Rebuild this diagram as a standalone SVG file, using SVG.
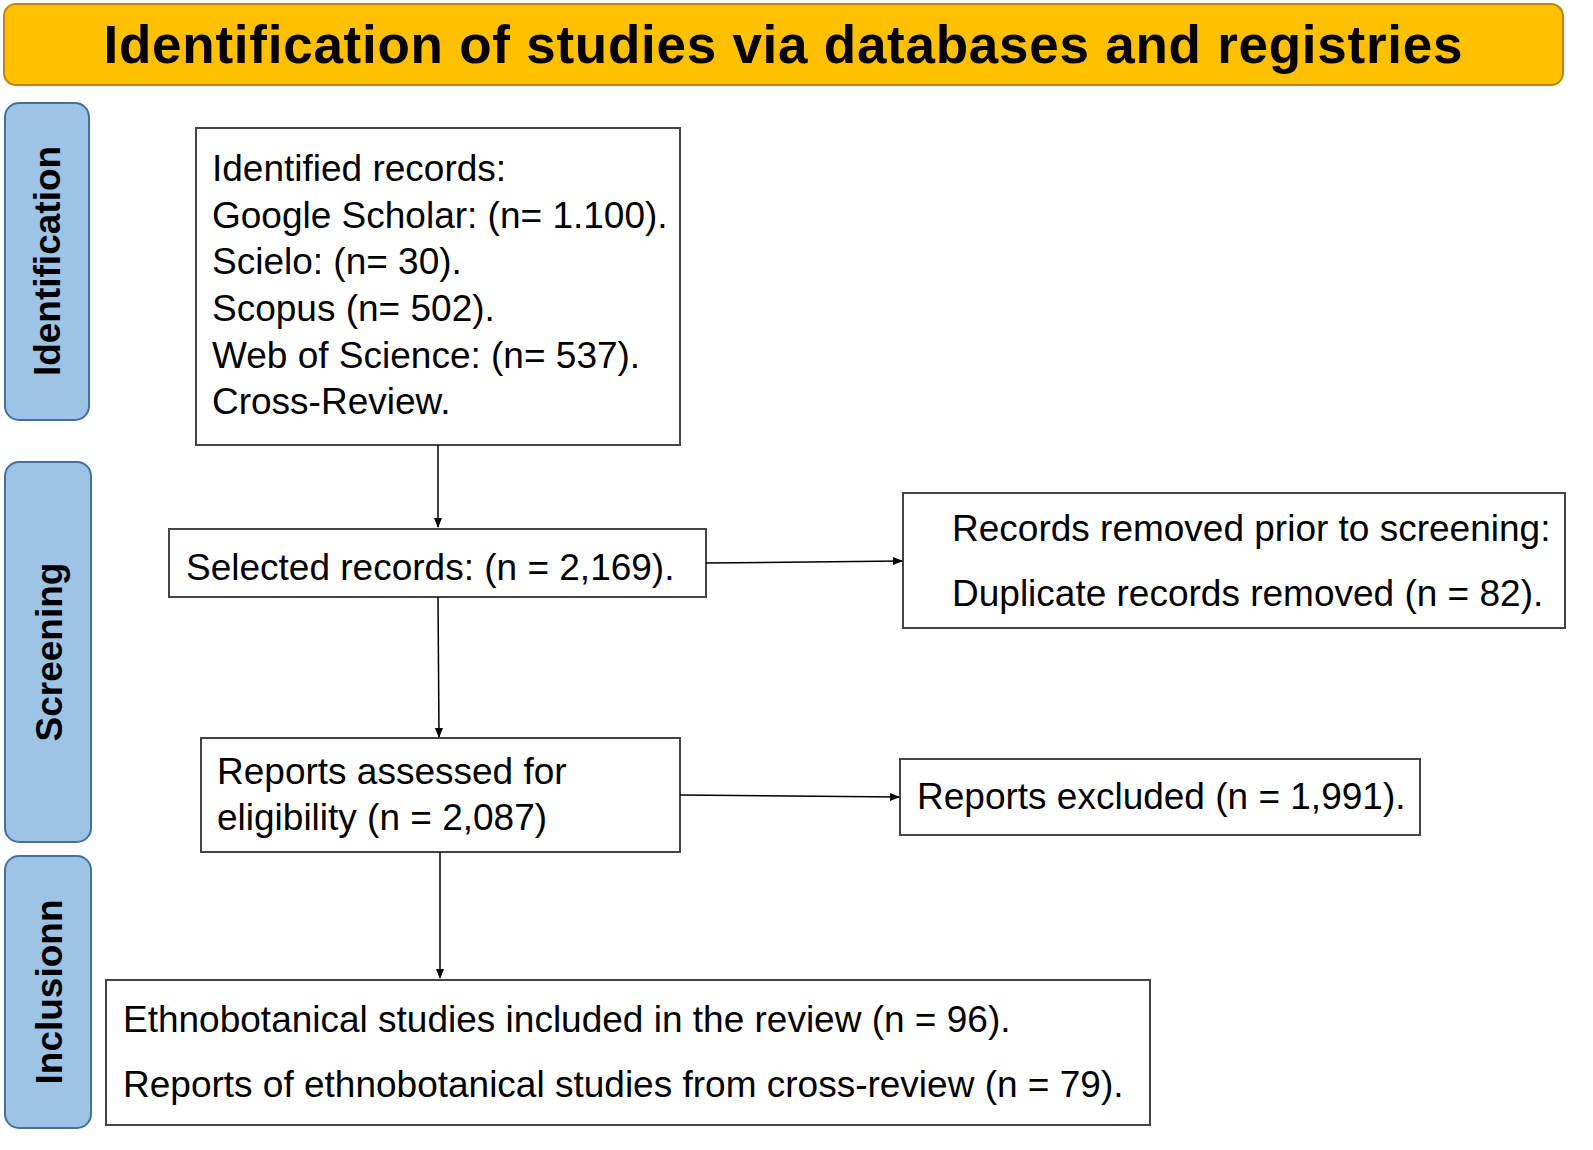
<svg xmlns="http://www.w3.org/2000/svg" width="1593" height="1150" viewBox="0 0 1593 1150">
<defs>
<marker id="ah" markerWidth="10" markerHeight="10" refX="9" refY="5" orient="auto" markerUnits="userSpaceOnUse"><path d="M0,1 L10,5 L0,9 z" fill="#000"/></marker>
<style>
.box{fill:#fff;stroke:#444;stroke-width:2}
.side{fill:#9DC3E6;stroke:#41719C;stroke-width:2}
.t{font-family:"Liberation Sans",Arial,sans-serif;font-size:37px;fill:#000}
.s{font-family:"Liberation Sans",Arial,sans-serif;font-size:37px;font-weight:bold;fill:#000}
.c{stroke:#000;stroke-width:1.5;fill:none;marker-end:url(#ah)}
</style>
</defs>
<rect width="1593" height="1150" fill="#fff"/>
<g id="header"><rect x="4" y="4" width="1559" height="81" rx="12" fill="#FFC000" stroke="#B8860B" stroke-width="2"/>
<text x="783" y="63" text-anchor="middle" font-family="Liberation Sans,Arial,sans-serif" font-size="53" font-weight="bold" textLength="1359">Identification of studies via databases and registries</text></g>
<g id="side-identification"><rect class="side" x="5" y="103" width="84" height="317" rx="14"/><text class="s" transform="translate(60,261) rotate(-90)" text-anchor="middle">Identification</text></g>
<g id="side-screening"><rect class="side" x="5" y="462" width="86" height="380" rx="14"/><text class="s" transform="translate(62,652) rotate(-90)" text-anchor="middle">Screening</text></g>
<g id="side-inclusion"><rect class="side" x="5" y="856" width="86" height="272" rx="14"/><text class="s" transform="translate(62,992) rotate(-90)" text-anchor="middle">Inclusionn</text></g>
<g id="identified"><rect class="box" x="196" y="128" width="484" height="317"/>
<text class="t" x="212" y="181">Identified records:</text>
<text class="t" x="212" y="228">Google Scholar: (n= 1.100).</text>
<text class="t" x="212" y="274">Scielo: (n= 30).</text>
<text class="t" x="212" y="321">Scopus (n= 502).</text>
<text class="t" x="212" y="368">Web of Science: (n= 537).</text>
<text class="t" x="212" y="414">Cross-Review.</text></g>
<g id="selected"><rect class="box" x="169" y="529" width="537" height="68"/><text class="t" x="186" y="580">Selected records: (n = 2,169).</text></g>
<g id="removed"><rect class="box" x="903" y="493" width="662" height="135"/>
<text class="t" x="952" y="541">Records removed prior to screening:</text>
<text class="t" x="952" y="606">Duplicate records removed (n = 82).</text></g>
<g id="assessed"><rect class="box" x="201" y="738" width="479" height="114"/>
<text class="t" x="217" y="784">Reports assessed for</text>
<text class="t" x="217" y="830">eligibility (n = 2,087)</text></g>
<g id="excluded"><rect class="box" x="900" y="759" width="520" height="76"/><text class="t" x="917" y="809">Reports excluded (n = 1,991).</text></g>
<g id="included"><rect class="box" x="106" y="980" width="1044" height="145"/>
<text class="t" x="123" y="1032">Ethnobotanical studies included in the review (n = 96).</text>
<text class="t" x="123" y="1097">Reports of ethnobotanical studies from cross-review (n = 79).</text></g>
<g id="connectors">
<path class="c" d="M438,445 L438,527"/>
<path class="c" d="M706,563 L902,561"/>
<path class="c" d="M438,597 L439,737"/>
<path class="c" d="M680,795 L899,797"/>
<path class="c" d="M440,852 L440,978"/>
</g>
</svg>
